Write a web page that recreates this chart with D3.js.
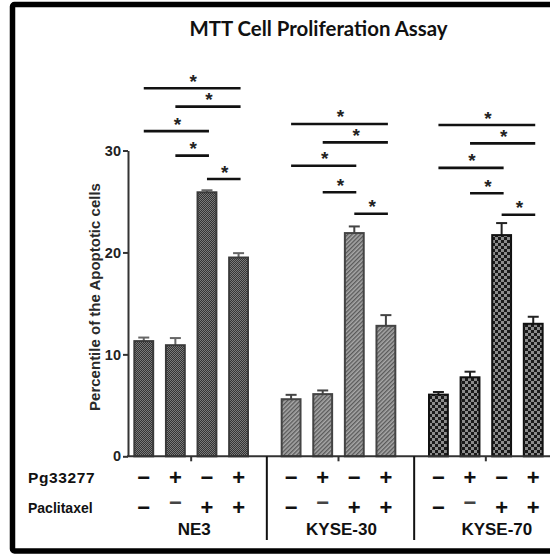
<!DOCTYPE html>
<html>
<head>
<meta charset="utf-8">
<script src="https://cdn.jsdelivr.net/npm/d3@7"></script>
<style>
  html, body { margin: 0; padding: 0; background: #fff; }
  svg { display: block; }
</style>
</head>
<body>
<svg id="chart" width="550" height="554"></svg>
<script>
// ---------- data ----------
const groups = ["NE3", "KYSE-30", "KYSE-70"];
const conditions = [0, 1, 2, 3];
const pgRow = ["\u2212", "+", "\u2212", "+"];
const paclitaxelRow = ["\u2212", "\u2212", "+", "+"];
const rowLabels = ["Pg33277", "Paclitaxel"];

const meanNE3 = [11.3, 10.9, 25.9, 19.5];
const errNE3 = [0.35, 0.7, 0.2, 0.43];
const meanK30 = [5.6, 6.1, 21.9, 12.8];
const errK30 = [0.43, 0.36, 0.65, 1.05];
const meanK70 = [6.05, 7.75, 21.7, 13.0];
const errK70 = [0.26, 0.55, 1.18, 0.69];

// significance brackets: [from condition, to condition, height]
const sigNE3 = [[0, 3, 36.1], [1, 3, 34.3], [0, 2, 31.9], [1, 2, 29.5], [2, 3, 27.2]];
const sigK30 = [[0, 3, 32.6], [1, 3, 30.8], [0, 2, 28.5], [1, 2, 25.9], [2, 3, 23.8]];
const sigK70 = [[0, 3, 32.5], [1, 3, 30.7], [0, 2, 28.3], [1, 2, 25.8], [2, 3, 23.7]];

const yTicks = [0, 10, 20, 30];
const title = "MTT Cell Proliferation Assay";
const yTitle = "Percentile of the Apoptotic cells";
const sigMark = "*";

// ---------- setup ----------
const means = [meanNE3, meanK30, meanK70];
const errs = [errNE3, errK30, errK70];
const sigs = [sigNE3, sigK30, sigK70];

const svg = d3.select("#chart");
const font = "'Liberation Sans', Arial, sans-serif";

const y = d3.scaleLinear().domain([0, 30]).range([456.3, 150.5]);
const xg = d3.scaleBand().domain(groups).range([117.5, 559.5]);
const xc = d3.scaleBand().domain(conditions).range([-63.2, 63.2]).paddingInner(0.34).paddingOuter(0.17);
const gc = g => xg(g) + xg.bandwidth() / 2;
const cc = (g, i) => gc(g) + xc(i) + xc.bandwidth() / 2;

// layout tweaks (label offsets from group centre)
const groupLabelDx = [3, 3, 11];

// ---------- patterns ----------
const defs = svg.append("defs");
const p1 = defs.append("pattern").attr("id", "pNE3").attr("patternUnits", "userSpaceOnUse")
  .attr("width", 2).attr("height", 2);
p1.append("rect").attr("width", 2).attr("height", 2).attr("fill", "#343434");
p1.append("rect").attr("x", 0).attr("y", 0).attr("width", 1).attr("height", 1).attr("fill", "#7a7a7a");
p1.append("rect").attr("x", 1).attr("y", 1).attr("width", 1).attr("height", 1).attr("fill", "#7a7a7a");

const p2 = defs.append("pattern").attr("id", "pK30").attr("patternUnits", "userSpaceOnUse")
  .attr("width", 3).attr("height", 3).attr("patternTransform", "rotate(45)");
p2.append("rect").attr("width", 3).attr("height", 3).attr("fill", "#a8a8a8");
p2.append("line").attr("x1", 0.7).attr("x2", 0.7).attr("y1", 0).attr("y2", 3)
  .attr("stroke", "#555").attr("stroke-width", 1.3);

const p3 = defs.append("pattern").attr("id", "pK70").attr("patternUnits", "userSpaceOnUse")
  .attr("width", 6).attr("height", 6);
p3.append("rect").attr("width", 6).attr("height", 6).attr("fill", "#1a1a1a");
p3.append("rect").attr("x", 0).attr("y", 0).attr("width", 3).attr("height", 3).attr("fill", "#8c8c8c");
p3.append("rect").attr("x", 3).attr("y", 3).attr("width", 3).attr("height", 3).attr("fill", "#8c8c8c");

const fills = ["url(#pNE3)", "url(#pK30)", "url(#pK70)"];
const strokes = ["#3a3a3a", "#444", "#111"];
const errColors = ["#666", "#444", "#222"];

// ---------- frame ----------
svg.append("rect").attr("x", 12.5).attr("y", 4.5).attr("width", 560).attr("height", 546.5)
  .attr("fill", "none").attr("stroke", "#000").attr("stroke-width", 5.5).attr("rx", 2);

// ---------- title ----------
svg.append("text").attr("x", 318.5).attr("y", 36).attr("text-anchor", "middle")
  .attr("font-family", "Lato, 'Open Sans', sans-serif").attr("font-weight", "bold")
  .attr("font-size", 20.4).attr("fill", "#111").text(title);

// ---------- bars ----------
groups.forEach((g, gi) => {
  const gSel = svg.append("g");
  const data = means[gi].map((m, i) => ({ i, m, e: errs[gi][i] }));
  gSel.selectAll(".eb").data(data).join("line")
    .attr("x1", d => cc(g, d.i)).attr("x2", d => cc(g, d.i))
    .attr("y1", d => y(d.m)).attr("y2", d => y(d.m + d.e))
    .attr("stroke", errColors[gi]).attr("stroke-width", 2);
  gSel.selectAll(".cap").data(data).join("line")
    .attr("x1", d => cc(g, d.i) - 5.5).attr("x2", d => cc(g, d.i) + 5.5)
    .attr("y1", d => y(d.m + d.e)).attr("y2", d => y(d.m + d.e))
    .attr("stroke", errColors[gi]).attr("stroke-width", 2);
  gSel.selectAll(".bar").data(data).join("rect")
    .attr("x", d => gc(g) + xc(d.i) + 1)
    .attr("width", xc.bandwidth() - 2)
    .attr("y", d => y(d.m))
    .attr("height", d => y(0) - y(d.m))
    .attr("fill", fills[gi]).attr("stroke", strokes[gi]).attr("stroke-width", 2);

  sigs[gi].forEach(([a, b, h]) => {
    const x1 = cc(g, a), x2 = cc(g, b) + 2;
    svg.append("line").attr("x1", x1).attr("x2", x2).attr("y1", y(h)).attr("y2", y(h))
      .attr("stroke", "#111").attr("stroke-width", 2.6);
    svg.append("text").attr("x", (x1 + x2) / 2 + 1).attr("y", y(h) - 0.5)
      .attr("text-anchor", "middle").attr("font-family", font).attr("font-weight", "bold")
      .attr("font-size", 19).attr("fill", "#222").text(sigMark);
  });
});

// ---------- axes ----------
const yAxis = d3.axisLeft(y).tickValues(yTicks).tickSize(5).tickSizeOuter(0).tickPadding(2)
  .tickFormat(d3.format("d"));
const ya = svg.append("g").attr("transform", "translate(128,0)").call(yAxis);
ya.select(".domain").attr("stroke", "#333").attr("stroke-width", 2);
ya.selectAll(".tick line").attr("stroke", "#333").attr("stroke-width", 2);
ya.selectAll(".tick text").attr("font-family", font).attr("font-weight", "bold")
  .attr("font-size", 14.5).attr("fill", "#222");

svg.append("text").attr("transform", "translate(100,297) rotate(-90)")
  .attr("text-anchor", "middle").attr("font-family", font).attr("font-weight", "bold")
  .attr("font-size", 15).attr("fill", "#2a2a2a").text(yTitle);

// baseline
svg.append("line").attr("x1", 127).attr("x2", 550).attr("y1", y(0)).attr("y2", y(0))
  .attr("stroke", "#333").attr("stroke-width", 2);
svg.selectAll(".gt").data(groups).join("line")
  .attr("x1", d => gc(d)).attr("x2", d => gc(d))
  .attr("y1", y(0)).attr("y2", y(0) + 5).attr("stroke", "#333").attr("stroke-width", 2);
svg.selectAll(".sep").data(groups.slice(1)).join("line")
  .attr("x1", d => xg(d) + 2).attr("x2", d => xg(d) + 2)
  .attr("y1", y(0)).attr("y2", 540).attr("stroke", "#111").attr("stroke-width", 2);

// ---------- condition table ----------
const rowY = [484.5, 514.5];
const labelY = [483.3, 512.5];
const labelSize = [15.5, 14];
rowLabels.forEach((t, r) => {
  svg.append("text").attr("x", 28).attr("y", labelY[r]).attr("font-family", font)
    .attr("font-weight", "bold").attr("font-size", labelSize[r])
    .attr("letter-spacing", r === 0 ? 0.6 : 0).attr("fill", "#111").text(t);
});
[pgRow, paclitaxelRow].forEach((row, r) => {
  groups.forEach(g => {
    row.forEach((s, i) => {
      const raised = r === 1 && i === 1;
      svg.append("text").attr("x", cc(g, i)).attr("y", rowY[r] - (raised ? 5 : 0))
        .attr("text-anchor", "middle").attr("font-family", font).attr("font-weight", "bold")
        .attr("font-size", 22).attr("fill", raised ? "#444" : "#111").text(s);
    });
  });
});
svg.selectAll(".gl").data(groups).join("text")
  .attr("x", (d, i) => gc(d) + groupLabelDx[i]).attr("y", 535).attr("text-anchor", "middle")
  .attr("font-family", font).attr("font-weight", "bold").attr("font-size", 17)
  .attr("fill", "#111").text(d => d);
</script>
</body>
</html>
